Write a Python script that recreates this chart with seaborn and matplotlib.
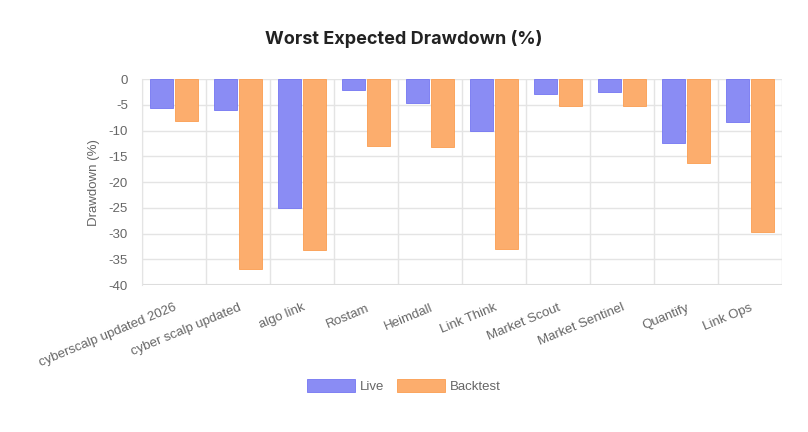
import pandas as pd
import seaborn as sns
import matplotlib.pyplot as plt
from matplotlib.patches import Patch

# values
strategies = ["cyberscalp updated 2026", "cyber scalp updated", "algo link", "Rostam",
              "Heimdall", "Link Think", "Market Scout", "Market Sentinel", "Quantify", "Link Ops"]
live = [-5.6, -6.0, -25.0, -2.1, -4.7, -10.0, -2.9, -2.6, -12.4, -8.3]
backtest = [-8.1, -36.9, -33.1, -12.9, -13.1, -32.9, -5.2, -5.2, -16.2, -29.6]
y_ticks = [0, -5, -10, -15, -20, -25, -30, -35, -40]

df = pd.DataFrame({
    "Strategy": strategies * 2,
    "Drawdown": live + backtest,
    "Series": ["Live"] * len(live) + ["Backtest"] * len(backtest),
})

fill = {"Live": "#8a8cf4", "Backtest": "#fcad6d"}
edge = {"Live": "#7375f2", "Backtest": "#fb9d50"}
grid_c = "#e4e4e4"
text_c = "#666666"

sns.set_style("white")
plt.rcParams["font.family"] = ["Liberation Sans", "DejaVu Sans"]

fig = plt.figure(figsize=(8.08, 4.32), dpi=100)
ax = fig.add_axes([0.1757, 0.340, 0.7921, 0.477])

sns.barplot(data=df, x="Strategy", y="Drawdown", hue="Series", palette=fill,
            width=0.8, gap=0.1, ax=ax, legend=False, saturation=1, zorder=3)
for cont, name in zip(ax.containers, ["Live", "Backtest"]):
    for bar in cont:
        bar.set_edgecolor(edge[name])
        bar.set_linewidth(0.6)

ax.set_xlim(-0.5, len(strategies) - 0.5)
ax.set_ylim(-40, 0)
ax.set_yticks(y_ticks)
ax.set_yticklabels([str(v) for v in y_ticks], fontsize=9.5, color=text_c)
ax.tick_params(axis="y", length=7, color=grid_c, pad=3)

ax.set_xticks(range(len(strategies)))
ax.set_xticklabels(strategies, rotation=22.5, ha="right", rotation_mode="anchor",
                   fontsize=9.5, color=text_c)
ax.set_xticks([i - 0.5 for i in range(len(strategies) + 1)], minor=True)
ax.tick_params(axis="x", which="major", length=0, pad=12)
ax.tick_params(axis="x", which="minor", length=7, color=grid_c, width=1)

ax.grid(axis="y", which="major", color=grid_c, linewidth=1, zorder=0)
ax.grid(axis="x", which="minor", color=grid_c, linewidth=1, zorder=0)
ax.set_axisbelow(True)
for side in ["top", "right", "bottom"]:
    ax.spines[side].set_visible(False)
ax.spines["left"].set_color(grid_c)
ax.axhline(-40, color="#dddddd", linewidth=1.5, zorder=1)

ax.set_xlabel("")
ax.set_ylabel("Drawdown (%)", fontsize=9.5, color=text_c, labelpad=6)

fig.suptitle("Worst Expected Drawdown (%)", x=0.5, y=0.93, fontsize=13,
             fontweight="bold", color="#222222", family=["Inter", "DejaVu Sans"])

handles = [Patch(facecolor=fill[k], edgecolor=edge[k], linewidth=0.6, label=k)
           for k in ["Live", "Backtest"]]
fig.legend(handles=handles, loc="center", bbox_to_anchor=(0.5, 0.106), ncol=2,
           frameon=False, fontsize=9.5, labelcolor=text_c, handlelength=3.6,
           handleheight=1.15, handletextpad=0.4, columnspacing=1.0)

fig.savefig("out.png", dpi=100)
